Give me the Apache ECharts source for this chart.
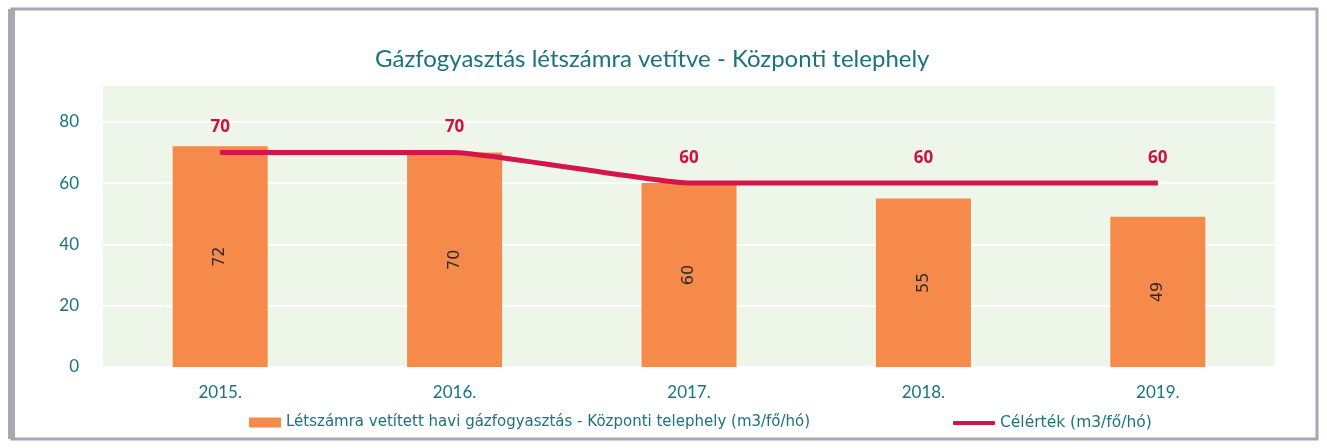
<!DOCTYPE html>
<html>
<head>
<meta charset="utf-8">
<script src="https://cdn.jsdelivr.net/npm/echarts@6/dist/echarts.min.js"></script>
<style>
    html, body { margin: 0; padding: 0; background: #ffffff; }
    #chart { width: 1327px; height: 448px; }
</style>
</head>
<body>
<div id="chart"></div>
<script>
    // adatok
    var years = ['2015.', '2016.', '2017.', '2018.', '2019.'];
    var consumption = [72, 70, 60, 55, 49];
    var target = [70, 70, 60, 60, 60];
    var yTicks = [0, 20, 40, 60, 80];

    var barName = 'Létszámra vetített havi gázfogyasztás - Központi telephely (m3/fő/hó)';
    var lineName = 'Célérték (m3/fő/hó)';
    var teal = '#1b737c';

    var chart = echarts.init(document.getElementById('chart'), null, { renderer: 'canvas' });

    var option = {
        backgroundColor: '#ffffff',
        animation: false,
        title: {
            text: 'Gázfogyasztás létszámra vetítve - Központi telephely',
            left: 370,
            top: 42,
            textStyle: { color: teal, fontFamily: 'Lato', fontSize: 24, fontWeight: 'normal' }
        },
        graphic: [
            {
                type: 'rect',
                shape: { x: 12, y: 9, width: 1305, height: 430 },
                style: { fill: 'none', stroke: '#a9a5b1', lineWidth: 3 }
            },
            {
                type: 'rect',
                shape: { x: 8, y: 9, width: 7, height: 430 },
                style: { fill: '#aaa6b3' }
            }
        ],
        legend: [
            {
                data: [{ name: barName, icon: 'rect' }],
                left: 244,
                top: 410,
                itemWidth: 32,
                itemHeight: 10,
                itemGap: 4,
                textStyle: { color: teal, fontFamily: 'DejaVu Sans', fontSize: 15 }
            },
            {
                data: [{ name: lineName, icon: 'roundRect' }],
                left: 948,
                top: 410,
                itemWidth: 42,
                itemHeight: 4,
                textStyle: { color: teal, fontFamily: 'DejaVu Sans', fontSize: 15.5 }
            }
        ],
        grid: {
            left: 103,
            right: 52,
            top: 85,
            bottom: 81,
            show: true,
            backgroundColor: '#eef6ea',
            borderWidth: 0
        },
        xAxis: {
            type: 'category',
            data: years,
            axisLine: { show: false },
            axisTick: { show: false },
            axisLabel: { color: teal, fontFamily: 'Lato', fontSize: 17, margin: 17 }
        },
        yAxis: {
            type: 'value',
            min: 0,
            max: 92,
            interval: 20,
            axisLine: { show: false },
            axisTick: { show: false },
            splitLine: { lineStyle: { color: '#ffffff', width: 2 } },
            axisLabel: {
                color: teal,
                fontFamily: 'Lato',
                fontSize: 17,
                margin: 24,
                formatter: function (v) { return yTicks.indexOf(v) >= 0 ? v : ''; }
            }
        },
        series: [
            {
                name: barName,
                type: 'bar',
                data: consumption,
                barWidth: 95,
                itemStyle: { color: '#f58a4a' },
                label: {
                    show: true,
                    position: 'inside',
                    rotate: 90,
                    color: '#2a2a2a',
                    fontFamily: 'DejaVu Sans',
                    fontSize: 16
                }
            },
            {
                name: lineName,
                type: 'line',
                data: target,
                smooth: 0.12,
                symbol: 'circle',
                symbolSize: 1,
                lineStyle: { color: '#d5154a', width: 5 },
                itemStyle: { color: '#d5154a' },
                label: {
                    show: true,
                    position: 'top',
                    distance: 16,
                    color: '#d0103f',
                    fontFamily: 'Open Sans',
                    fontWeight: 'bold',
                    fontSize: 17
                }
            }
        ]
    };

    chart.setOption(option);
    window.addEventListener('resize', chart.resize);
</script>
</body>
</html>
